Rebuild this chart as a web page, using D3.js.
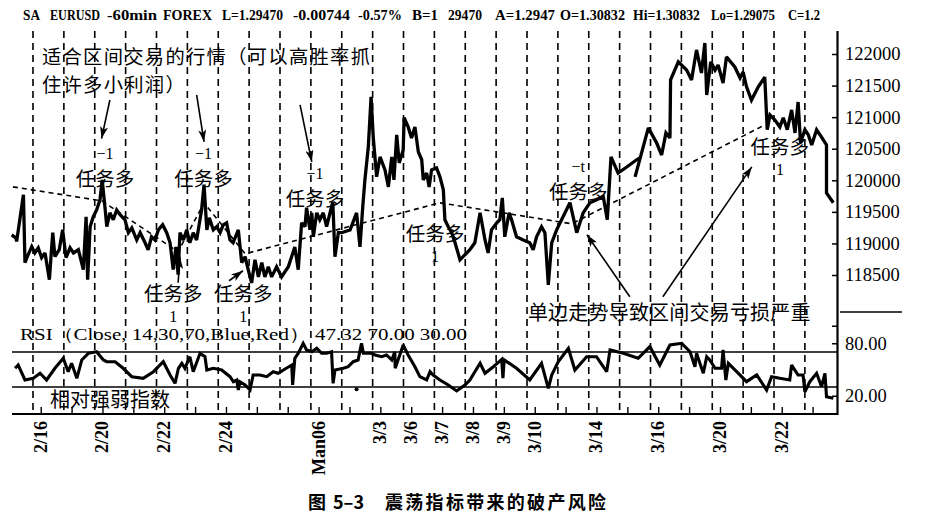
<!DOCTYPE html>
<html><head><meta charset="utf-8">
<script src="https://cdn.jsdelivr.net/npm/d3@7"></script>
<style>
body{margin:0;background:#fff;}
svg{display:block;}
</style></head><body>
<svg id="c" width="925" height="522"></svg>
<script>
// ---------------- DATA ----------------
// x positions are in "trading-day" units (0 = first dashed day line)
const priceDays = [-0.69,-0.55,-0.53,-0.31,-0.26,-0.18,-0.04,0.06,0.17,0.28,
0.39,0.53,0.64,0.71,0.85,0.96,1.07,1.20,1.31,1.47,
1.63,1.72,1.77,1.85,1.95,2.06,2.17,2.24,2.33,2.39,
2.49,2.60,2.71,2.82,2.98,3.09,3.20,3.36,3.47,3.63,
3.73,3.84,3.95,4.06,4.20,4.33,4.44,4.54,4.63,4.70,
4.76,4.87,4.98,5.08,5.19,5.30,5.46,5.54,5.63,5.71,
5.84,5.95,6.06,6.16,6.27,6.38,6.48,6.65,6.76,6.87,
6.97,7.08,7.19,7.30,7.41,7.51,7.62,7.73,7.89,8.05,
8.27,8.48,8.59,8.70,8.81,8.86,8.97,9.03,9.08,9.19,
9.29,9.40,9.51,9.62,9.71,9.78,9.89,10.00,10.27,10.48,
10.59,10.68,10.75,10.86,10.95,11.02,11.13,11.24,11.40,11.51,
11.62,11.69,11.78,11.86,11.99,12.02,12.15,12.26,12.37,12.48,
12.59,12.64,12.75,12.83,12.91,13.07,13.18,13.29,13.34,13.45,
13.56,13.67,13.83,13.93,14.15,14.31,14.48,14.64,14.74,14.85,
15.02,15.12,15.20,15.28,15.42,15.50,15.66,15.88,16.09,16.20,
16.31,16.47,16.58,16.69,16.80,16.96,17.12,17.39,17.61,17.82,
18.04,18.47,18.60,18.72,18.95,19.23,19.55,19.71,null,
19.50,19.93,20.20,20.36,20.50,20.63,20.65,20.90,21.17,21.33,
21.49,21.65,21.76,21.82,21.95,22.09,22.19,22.35,22.46,22.73,
22.90,23.00,23.11,23.27,23.49,23.70,23.78,23.87,24.03,24.19,
24.30,24.43,24.57,24.68,24.78,24.86,25.00,25.11,25.22,25.38,
25.54,25.70,25.70,25.92];
const priceValues = [119135,119085,119030,119770,118695,118795,118950,118850,118930,118775,
118850,118425,119170,118790,118900,119215,118775,118930,118850,118900,
118585,119420,118425,119265,119420,119530,119690,120005,119580,119265,
119485,119375,119530,119455,119375,119170,119245,119055,119170,119010,
118900,119105,119055,119215,119295,119170,119010,118585,118945,118505,
119170,119055,119215,119010,119170,119055,119530,119930,119215,119405,
119215,119265,119170,119295,119325,119055,119010,119215,118695,118790,
118585,118375,118740,118470,118695,118470,118630,118470,118630,118470,
118630,118945,118585,119325,119265,119565,119215,119485,119105,119485,
119375,119485,119265,119485,119660,118790,119170,119170,119215,119485,
118945,119580,120005,120530,121320,120685,120055,120370,120165,119895,
120370,120005,120720,120275,120480,120990,120845,120670,120845,120450,
120325,120005,120115,119895,120165,120195,120055,119850,119375,119265,
119170,119010,118740,118790,118900,119010,119485,119055,118850,119215,
119325,119375,119720,119105,119485,119375,119105,119055,119010,118900,
119105,119265,119170,118345,119010,119215,119375,119645,119170,119485,
119645,119740,119375,120370,120115,120210,120325,120370,null,
120055,120830,120590,120400,120750,120670,121590,121875,121745,121590,
122065,121700,122175,121350,121875,121745,121825,121540,121955,121795,
121620,121715,121480,121270,121480,121635,120800,121035,120955,120845,
120990,120800,121115,120750,121240,120590,120800,120720,120560,120800,
120685,120560,119800,119645];

const rsiDays = [-0.58,-0.48,-0.26,0.01,0.23,0.44,0.71,0.98,1.14,1.25,
1.42,1.58,1.79,2.06,2.28,2.39,2.66,2.92,3.20,3.57,
3.90,4.22,4.44,4.60,4.71,4.82,4.92,5.08,5.19,5.41,
5.57,5.63,5.84,6.11,6.38,6.49,6.60,6.65,6.70,6.87,
7.03,7.13,7.35,7.57,7.78,7.94,8.11,8.38,8.41,8.48,
8.59,8.75,8.86,9.03,9.19,9.35,9.51,9.67,9.72,9.78,
10.05,10.21,10.37,10.53,10.64,10.70,10.97,11.08,11.29,11.45,
11.62,11.72,11.73,11.88,11.99,12.15,12.37,12.53,12.75,12.86,
12.96,13.18,13.45,13.72,13.99,14.15,14.48,14.64,14.91,15.18,
15.22,15.26,15.66,16.09,16.47,16.69,16.80,17.01,17.34,17.55,
17.93,18.25,18.58,18.69,19.12,19.60,19.98,20.30,20.63,21.01,
21.28,21.44,21.49,21.71,21.82,21.92,22.09,22.30,22.35,22.44,
22.52,22.79,23.11,23.44,23.76,23.92,24.19,24.51,24.57,24.78,
24.94,25.00,25.16,25.38,25.54,25.65,25.70,25.92];
const rsiValues = [51.4,55.1,38.0,39.9,45.7,38.0,51.4,62.8,47.5,57.1,
39.9,60.9,68.5,70.3,60.9,58.9,58.9,51.4,41.8,39.9,
47.5,58.9,43.7,34.2,51.4,57.1,51.4,64.6,47.5,68.5,
64.6,49.4,51.4,49.4,41.8,36.1,38.0,26.6,36.1,32.3,
26.6,43.7,43.7,41.8,47.5,45.7,49.4,55.1,32.3,62.8,
68.5,79.9,72.3,70.3,74.2,68.5,68.5,70.3,34.2,49.4,
51.4,53.2,58.9,60.9,79.9,68.5,68.5,66.6,64.6,66.6,
60.9,70.3,51.4,66.6,78.0,66.6,53.2,41.8,38.0,47.5,
43.7,38.0,32.3,25.5,32.3,38.0,57.1,45.7,53.2,61.5,
40.0,61.0,51.4,38.0,57.1,28.5,43.7,58.9,74.2,49.4,
64.6,64.6,47.5,72.3,68.5,62.8,76.1,55.1,78.0,79.9,
70.3,53.2,68.5,45.7,64.6,60.9,51.4,51.4,72.3,38.0,
57.1,47.5,36.1,43.7,26.6,41.8,39.9,38.0,55.1,43.7,
43.7,24.6,36.1,45.7,30.3,45.7,18.9,17.1];
const rsiDot = [10.48, 27.4];

// dashed trade line (entry/exit points)
const tradeDays   = [-0.65, 2.23, 4.70, 5.54, 6.87, 13.18, 17.45, 23.70];
const tradePrices = [119896,119674,118868,119643,118836,119643,119311,120877];

const gridDays = d3.range(0, 26);
const tickDays = d3.range(0, 26).map(d => d + 0.25);
const dateLabels = [[0,"2/16"],[2,"2/20"],[4,"2/22"],[6,"2/24"],[9,"Man06"],[11,"3/3"],[12,"3/6"],
  [13,"3/7"],[14,"3/8"],[15,"3/9"],[16,"3/10"],[18,"3/14"],[20,"3/16"],[22,"3/20"],[24,"3/22"]];
const priceTicks = [118500,119000,119500,120000,120500,121000,121500,122000];
const rsiTicks = [100, 80, 20];
const rsiLevels = [70, 30];

// header tokens: text, left x, width
const header = [["SA",23,17],["EURUSD",50,50],["-60min",107,50],["FOREX",163,49],["L=1.29470",222,61],
  ["-0.00744",293,57],["-0.57%",358,44],["B=1",412,26],["29470",448,34],["A=1.2947",495,60],
  ["O=1.30832",560,65],["Hi=1.30832",633,67],["Lo=1.29075",711,64],["C=1.2",788,32]];

// signal labels: [day, price, mark text, mark position]
const signals = [[2.33,120054,"−1","above"],[5.52,120059,"−1","above"],[9.13,119742,"−1","above"],
  [4.54,118214,"1","below"],[6.81,118214,"1","below"],[13.02,119163,"1","below"],
  [17.66,119848,"−t","above"],[24.19,120533,"1","below"]];
// arrows: [day0, price0, day1, price1] (tip at 1)
const arrows = [[2.49,121272,2.22,120660],[5.30,121351,5.54,120610],[8.65,121193,9.03,120290],
  [4.70,118377,4.76,118789],[6.35,118409,6.80,118567],
  [19.33,118156,17.94,119137],[20.40,118156,23.28,120212]];

// ---------------- CHART ----------------
const svg = d3.select('#c');
const x = d3.scaleLinear().domain([-0.68, 26.04]).range([12, 837]);
const y = d3.scaleLinear().domain([118500, 122000]).range([275, 54]);
const yr = d3.scaleLinear().domain([30, 70]).range([387, 352]);
const SERIF = '"Liberation Serif","Times New Roman",serif';
const CJK = '"Noto Sans CJK SC","Noto Sans CJK JP",sans-serif';

svg.append('rect').attr('width',925).attr('height',522).attr('fill','#fff');

svg.append('defs').append('marker').attr('id','ah')
  .attr('viewBox','0 0 12 8').attr('refX',12).attr('refY',4)
  .attr('markerWidth',13).attr('markerHeight',8).attr('markerUnits','userSpaceOnUse')
  .attr('orient','auto')
  .append('path').attr('d','M0,0 L12,4 L0,8 L3,4 Z').attr('fill','#000');

// dashed day lines
svg.append('g').selectAll('line').data(gridDays).join('line')
  .attr('x1', d => x(d)).attr('x2', d => x(d)).attr('y1', 31).attr('y2', 414)
  .attr('stroke','#000').attr('stroke-width',1.6).attr('stroke-dasharray','7,5');

// header
svg.append('g').selectAll('text').data(header).join('text')
  .attr('x', d => d[1]).attr('y', 20).text(d => d[0])
  .attr('textLength', d => d[2]).attr('lengthAdjust','spacingAndGlyphs')
  .attr('font-family', SERIF).attr('font-weight','bold').attr('font-size', 14.5).attr('fill','#000');

// bottom axis
const bx = svg.append('g').attr('transform','translate(0,414)')
  .call(d3.axisBottom(x).tickValues(tickDays).tickSize(-7).tickFormat(''));
bx.select('.domain').remove();
bx.selectAll('line').attr('stroke','#000').attr('stroke-width',1.4);
svg.append('line').attr('x1',12).attr('x2',838).attr('y1',414).attr('y2',414)
  .attr('stroke','#000').attr('stroke-width',2.2);
svg.append('g').selectAll('text').data(dateLabels).join('text')
  .attr('transform', d => `translate(${x(d[0]+0.25)},421) rotate(-90)`)
  .attr('text-anchor','end').attr('dominant-baseline','central')
  .attr('font-family', SERIF).attr('font-weight','bold').attr('font-size', 18).text(d => d[1]);

// right axes
const ra = svg.append('g').attr('transform','translate(837,0)')
  .call(d3.axisRight(y).tickValues(priceTicks).tickSize(-5).tickPadding(8).tickFormat(d3.format('d')));
const rr = svg.append('g').attr('transform','translate(837,0)')
  .call(d3.axisRight(yr).tickValues(rsiTicks).tickSize(-5).tickPadding(8)
    .tickFormat(d => d === 100 ? '' : d.toFixed(2)));
[ra, rr].forEach(g => {
  g.select('.domain').remove();
  g.selectAll('line').attr('stroke','#000').attr('stroke-width',1.5);
  g.selectAll('text').attr('font-family', SERIF).attr('font-size', 18.5).attr('fill','#000');
});
svg.append('line').attr('x1',837.5).attr('x2',837.5).attr('y1',31).attr('y2',415)
  .attr('stroke','#000').attr('stroke-width',2.2);
svg.append('line').attr('x1',840).attr('x2',902).attr('y1',312).attr('y2',312)
  .attr('stroke','#000').attr('stroke-width',1.5);

// RSI level lines
svg.append('g').selectAll('line').data(rsiLevels).join('line')
  .attr('x1',12).attr('x2',837).attr('y1', d => yr(d)).attr('y2', d => yr(d))
  .attr('stroke','#000').attr('stroke-width',1.6);

// trade dashed line
const tradePts = tradeDays.map((d,i) => [d, tradePrices[i]]);
svg.append('path').datum(tradePts)
  .attr('d', d3.line().x(d => x(d[0])).y(d => y(d[1])))
  .attr('fill','none').attr('stroke','#000').attr('stroke-width',1.6).attr('stroke-dasharray','5,4');

// price line
const pricePts = priceDays.map((d,i) => [d, priceValues[i]]);
svg.append('path').datum(pricePts)
  .attr('d', d3.line().defined(d => d[0] != null && d[1] != null).x(d => x(d[0])).y(d => y(d[1])))
  .attr('fill','none').attr('stroke','#000').attr('stroke-width',3.3)
  .attr('stroke-linejoin','miter').attr('stroke-miterlimit',2.5);

// RSI line
const rsiPts = rsiDays.map((d,i) => [d, rsiValues[i]]);
svg.append('path').datum(rsiPts)
  .attr('d', d3.line().x(d => x(d[0])).y(d => yr(d[1])))
  .attr('fill','none').attr('stroke','#000').attr('stroke-width',3.1)
  .attr('stroke-linejoin','miter').attr('stroke-miterlimit',2.5);
svg.append('circle').attr('cx', x(rsiDot[0])).attr('cy', yr(rsiDot[1])).attr('r',2).attr('fill','#000');

// arrows
svg.append('g').selectAll('line').data(arrows).join('line')
  .attr('x1', d => x(d[0])).attr('y1', d => y(d[1]))
  .attr('x2', d => x(d[2])).attr('y2', d => y(d[3]))
  .attr('stroke','#000').attr('stroke-width',1.6).attr('marker-end','url(#ah)');

// signal labels: mark (−1 / 1) and 任务多
const sg = svg.append('g');
sg.selectAll('text.s').data(signals).join('text').attr('class','s')
  .attr('x', d => x(d[0])).attr('y', d => y(d[1]) + (d[3] === 'above' ? 1 : -1))
  .attr('text-anchor','middle').attr('dominant-baseline','central')
  .attr('font-family', CJK).attr('font-size', 19.5).text('任务多');
sg.selectAll('text.m').data(signals).join('text').attr('class','m')
  .attr('x', d => x(d[0])).attr('y', d => y(d[1]) + (d[3] === 'above' ? -23 : 23))
  .attr('text-anchor','middle').attr('dominant-baseline','central')
  .attr('font-family', SERIF).attr('font-size', 16).text(d => d[2]);

// big annotations
const ann = svg.append('g').attr('font-family', CJK).attr('font-size', 20).attr('fill','#000');
ann.append('text').attr('x', x(0.29)).attr('y', y(121975)).attr('dominant-baseline','central')
  .attr('font-size', 19.3).attr('letter-spacing', 1.3).text('适合区间交易的行情（可以高胜率抓');
ann.append('text').attr('x', x(0.29)).attr('y', y(121520)).attr('dominant-baseline','central')
  .attr('font-size', 19.3).attr('letter-spacing', 1.3).text('住许多小利润）');
ann.append('text').attr('x', x(16.03)).attr('y', y(117918)).attr('dominant-baseline','central')
  .attr('letter-spacing', 0.2).text('单边走势导致区间交易亏损严重');
ann.append('text').attr('x', x(0.55)).attr('y', yr(17.4)).attr('dominant-baseline','central')
  .text('相对强弱指数');

// RSI caption
svg.append('text').attr('x', 20).attr('y', yr(84))
  .attr('font-family', SERIF).attr('font-size', 17).attr('textLength', 447).attr('lengthAdjust','spacingAndGlyphs')
  .text('RSI（Close, 14,30,70,Blue,Red） 47.32 70.00 30.00');

// title
const t = svg.append('text').attr('y', 501).attr('dominant-baseline','central')
  .attr('font-family', CJK).attr('font-weight','bold').attr('font-size', 18);
t.append('tspan').attr('x', 308).text('图');
t.append('tspan').attr('x', 333).text('5–3');
t.append('tspan').attr('x', 385).attr('letter-spacing', 2.3).text('震荡指标带来的破产风险');
</script></body></html>
